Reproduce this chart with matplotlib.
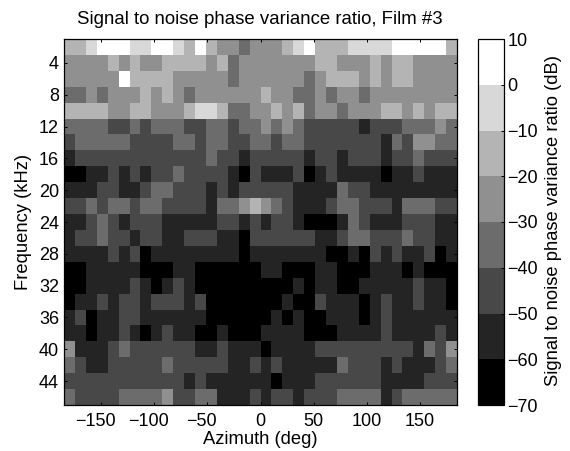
import numpy as np
import matplotlib
matplotlib.use("Agg")
import matplotlib.pyplot as plt
from matplotlib.colors import ListedColormap, BoundaryNorm
from matplotlib.transforms import ScaledTranslation

plt.rcParams['font.family'] = ['Liberation Sans', 'DejaVu Sans']

title = "Signal to noise phase variance ratio, Film #3"
xlabel = "Azimuth (deg)"
ylabel = "Frequency (kHz)"
cbar_label = "Signal to noise phase variance ratio (dB)"
xticks = [-150, -100, -50, 0, 50, 100, 150]
yticks = [4, 8, 12, 16, 20, 24, 28, 32, 36, 40, 44]
cticks = [-70, -60, -50, -40, -30, -20, -10, 0, 10]

# band index per cell: 0 = -70..-60 dB, 7 = 0..10 dB; one row per 2 kHz, one column per azimuth
bands = [
    [5,5,6,7,7,7,6,6,7,7,6,5,7,5,4,4,3,4,4,4,5,6,7,5,5,5,6,6,6,6,7,7,7,7,7,5],
    [4,4,4,4,5,4,5,4,4,5,5,5,5,4,5,3,4,4,4,4,4,4,4,5,5,4,4,4,5,4,5,5,4,4,4,4],
    [4,4,4,4,4,7,5,5,5,5,4,4,4,4,4,3,4,4,4,4,4,4,3,4,5,5,5,4,5,4,5,5,4,4,4,4],
    [3,3,4,3,4,4,4,5,4,5,4,3,4,4,4,4,4,4,5,4,4,3,3,4,3,4,4,3,4,4,4,4,4,4,4,4],
    [5,5,5,5,4,4,5,5,4,4,4,5,6,6,5,3,3,4,4,5,4,5,3,4,4,3,4,4,4,5,5,4,5,4,5,5],
    [3,3,3,3,2,2,3,2,3,3,3,2,2,3,3,2,3,3,4,3,4,3,2,2,2,2,2,1,2,2,2,3,3,3,4,3],
    [2,3,3,3,3,3,2,2,2,2,3,3,2,3,3,2,2,3,3,2,3,3,2,2,2,2,2,2,2,1,3,2,4,4,3,3],
    [1,2,2,2,2,2,2,2,2,2,2,2,2,3,2,2,1,2,2,2,2,2,1,2,2,1,2,2,2,1,2,2,3,2,2,2],
    [0,0,1,1,2,1,2,1,2,2,3,2,2,2,2,1,0,2,1,1,1,2,0,1,2,1,1,1,1,0,1,1,2,1,1,1],
    [1,1,1,2,2,1,1,2,3,3,2,2,2,1,2,1,2,2,2,2,2,1,1,1,1,3,2,2,1,1,1,1,1,1,1,1],
    [2,2,3,2,3,3,2,3,3,2,2,2,2,1,3,3,4,5,4,3,2,1,1,1,2,3,3,2,2,2,1,3,3,3,2,2],
    [1,1,2,3,2,1,2,2,2,1,1,1,1,1,2,2,1,2,1,2,2,1,0,0,0,1,3,2,1,1,1,2,2,2,1,1],
    [1,2,2,3,2,2,1,2,2,1,1,2,2,2,1,1,0,2,2,2,2,2,2,1,1,2,3,3,2,2,2,3,2,2,1,1],
    [1,1,1,1,2,1,2,0,1,1,1,1,1,1,1,1,0,1,1,1,1,1,1,1,0,0,1,0,2,1,2,1,1,2,0,1],
    [0,0,1,1,1,1,1,0,0,0,1,1,0,0,0,0,0,0,1,1,0,0,0,1,1,0,0,0,1,1,1,0,1,0,0,0],
    [0,0,1,1,1,1,2,1,0,1,2,1,0,0,0,0,0,0,0,0,0,1,0,1,1,0,0,1,1,1,1,1,2,1,1,0],
    [0,1,1,2,1,2,2,1,2,2,2,1,2,0,0,0,0,0,0,0,1,0,0,2,1,1,1,0,1,2,1,1,2,1,1,0],
    [1,2,0,1,1,2,2,1,1,1,1,1,1,0,0,0,0,0,0,1,0,1,0,0,1,1,1,0,1,2,1,1,1,1,1,1],
    [1,1,0,1,1,2,1,0,1,2,1,1,0,0,1,0,0,0,1,1,1,1,0,0,0,1,1,1,1,2,1,1,1,1,2,1],
    [4,1,1,1,2,3,2,2,2,2,2,2,1,1,2,1,1,1,0,1,1,1,1,2,2,2,2,2,2,2,2,2,1,3,2,4],
    [3,2,1,1,2,2,2,2,2,3,2,2,2,2,2,1,1,2,1,2,1,1,1,1,1,3,2,2,2,1,2,1,1,1,2,3],
    [2,2,2,2,2,2,2,2,2,2,2,1,2,1,1,1,1,1,1,0,1,1,1,2,2,2,2,2,2,1,1,1,1,2,2,2],
    [3,2,2,2,2,3,3,3,3,4,2,2,3,3,1,1,1,2,1,2,2,1,2,2,2,3,3,3,3,1,2,3,3,3,3,3],
]
grays = ["#000000", "#242424", "#484848", "#6c6c6c", "#909090", "#b4b4b4", "#d8d8d8", "#ffffff"]

W, H = 570, 451
snr_db = np.array(bands) * 10.0 - 65.0
az_edges = np.linspace(-185, 185, snr_db.shape[1] + 1)
freq_edges = np.arange(1, 2 * snr_db.shape[0] + 2, 2)

fig = plt.figure(figsize=(W / 100, H / 100), dpi=100)
ax = fig.add_axes([64 / W, 1 - 405 / H, (457 - 64) / W, (405 - 39) / H])
cmap = ListedColormap(grays)
norm = BoundaryNorm(cticks, cmap.N)
mesh = ax.pcolormesh(az_edges, freq_edges, snr_db, cmap=cmap, norm=norm, edgecolors='none')
ax.set_xlim(-185, 185)
ax.set_ylim(47, 1)
ax.set_xticks(xticks)
ax.set_yticks(yticks)
ax.tick_params(direction='in', length=2.5, width=0.7, top=True, right=True, labelsize=13, color='black')
ax.tick_params(axis='x', pad=5.5)
ax.tick_params(axis='y', pad=3.6)
shift = ScaledTranslation(-5.5 / 100, 0, fig.dpi_scale_trans)
for tick, value in zip(ax.xaxis.get_major_ticks(), xticks):
    if value < 0:
        tick.label1.set_transform(tick.label1.get_transform() + shift)
fig.text(260.5 / W, 1 - 439 / H, xlabel, fontsize=13.2, ha='center', va='center')
fig.text(23.5 / W, 1 - 222 / H, ylabel, fontsize=13.2, ha='center', va='center', rotation=90)
fig.text(260 / W, 1 - 19 / H, title, fontsize=13.4, ha='center', va='center')
for s in ax.spines.values():
    s.set_linewidth(0.9)

cax = fig.add_axes([478 / W, 1 - 405 / H, 26 / W, (405 - 39) / H])
cb = fig.colorbar(mesh, cax=cax, ticks=cticks, spacing='proportional')
cb.ax.tick_params(direction='in', length=2.5, width=0.7, labelsize=13, pad=2.5)
fig.text(554 / W, 1 - 221 / H, cbar_label, fontsize=13.2, ha='center', va='center', rotation=90)
cb.outline.set_linewidth(0.9)

fig.savefig("out.png", dpi=100)
